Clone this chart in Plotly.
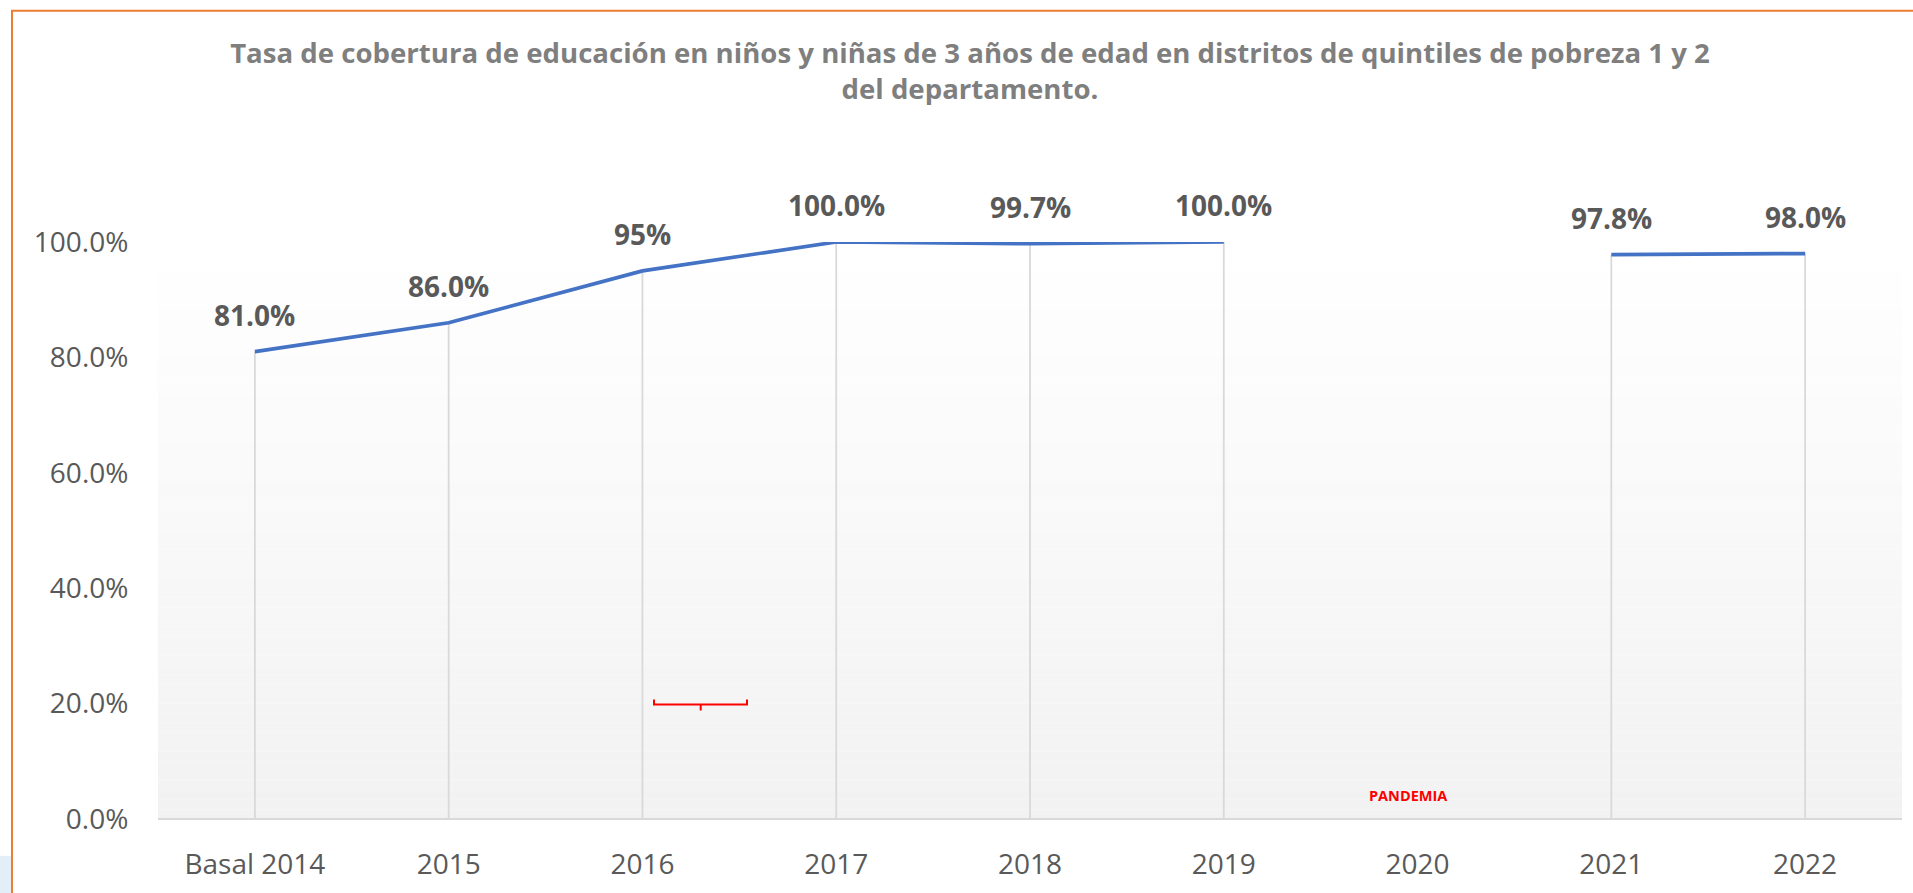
import plotly.graph_objects as go

# ---- data ----
categories = ["Basal 2014", "2015", "2016", "2017", "2018", "2019", "2020", "2021", "2022"]
coverage = [0.81, 0.86, 0.95, 1.00, 0.997, 1.00, None, 0.978, 0.98]
value_labels = ["81.0%", "86.0%", "95%", "100.0%", "99.7%", "100.0%", "", "97.8%", "98.0%"]
y_ticks = [0.0, 0.2, 0.4, 0.6, 0.8, 1.0]
title_text = ("Tasa de cobertura de educación en niños y niñas de 3 años de edad en distritos de quintiles de pobreza 1 y 2"
              "<br>del departamento.")
note_text = "PANDEMIA"

# ---- geometry (page pixels) ----
W, H = 1913, 893
ML, MR, MT, MB = 158, 11, 242, 72
PW, PH = W - ML - MR, H - MT - MB


def px(X):
    return (X - ML) / PW


def py(Y):
    return (H - MB - Y) / PH


FONT = "Open Sans"
GRAY = "#595959"

fig = go.Figure()

# drop lines from each point to the axis
dx, dy = [], []
for i, v in enumerate(coverage):
    if v is None:
        continue
    dx += [i, i, None]
    dy += [0, v, None]
fig.add_trace(go.Scatter(x=dx, y=dy, mode="lines", line=dict(color="#d9d9d9", width=1.8),
                         hoverinfo="skip", showlegend=False))

# main line
fig.add_trace(go.Scatter(x=list(range(len(categories))), y=coverage, mode="lines", connectgaps=False,
                         line=dict(color="#4472c4", width=3.7), showlegend=False))

# data labels
for i, (v, t) in enumerate(zip(coverage, value_labels)):
    if v is None or not t:
        continue
    fig.add_annotation(x=i, y=v, text=t, showarrow=False, yshift=37,
                       xanchor="center", yanchor="middle",
                       font=dict(family=FONT, size=28, color=GRAY, weight="bold"))

shapes = []
# gradient background of plot area
N = 60
for i in range(N):
    f = i / (N - 1)
    g = round(242 + (255 - 242) * f)
    shapes.append(dict(type="rect", xref="paper", yref="paper", x0=0, x1=1,
                       y0=i / N, y1=(i + 1) / N, fillcolor=f"rgb({g},{g},{g})",
                       line=dict(width=0), layer="below"))
# axis base line
shapes.append(dict(type="line", xref="paper", yref="paper", x0=0, x1=1, y0=0, y1=0,
                   line=dict(color="#d9d9d9", width=2), layer="above"))
# orange frame
shapes.append(dict(type="rect", xref="paper", yref="paper", x0=px(12), x1=px(1940),
                   y0=py(930), y1=py(10), line=dict(color="#ed7d31", width=2),
                   fillcolor="rgba(0,0,0,0)", layer="below"))
# light blue patch bottom-left
shapes.append(dict(type="rect", xref="paper", yref="paper", x0=px(-5), x1=px(11),
                   y0=py(900), y1=py(858), line=dict(width=0), fillcolor="#e4eef8", layer="below"))
# red brace
path = (f"M {px(654)},{py(701)} L {px(654)},{py(706)} L {px(747)},{py(706)} L {px(747)},{py(701)} "
        f"M {px(700.7)},{py(706)} L {px(700.7)},{py(712)}")
shapes.append(dict(type="path", xref="paper", yref="paper", path=path,
                   line=dict(color="#ff0000", width=2)))

fig.add_annotation(xref="paper", yref="paper", x=px(1408), y=py(797), text=note_text,
                   xanchor="center", yanchor="middle",
                   showarrow=False, font=dict(family=FONT, size=14.5, color="#ff0000", weight="bold"))

fig.update_layout(
    width=W, height=H,
    margin=dict(l=ML, r=MR, t=MT, b=MB),
    paper_bgcolor="white", plot_bgcolor="rgba(0,0,0,0)",
    shapes=shapes,
    title=dict(text=title_text, xref="container", yref="container", x=970 / W, y=1 - 63 / H,
               xanchor="center", yanchor="middle",
               font=dict(family=FONT, size=27.6, color="#7f7f7f", weight="bold")),
    xaxis=dict(range=[-0.5, len(categories) - 0.5], tickvals=list(range(len(categories))),
               ticktext=categories, showgrid=False, zeroline=False,
               showline=False, ticks="outside", ticklen=20, tickcolor="rgba(0,0,0,0)",
               tickfont=dict(family=FONT, size=28, color=GRAY)),
    yaxis=dict(range=[0, 1], tickvals=y_ticks, tickformat=".1%", showgrid=False,
               zeroline=False, showline=False, ticks="outside", ticklen=23,
               tickcolor="rgba(0,0,0,0)", tickfont=dict(family=FONT, size=28, color=GRAY)),
    showlegend=False,
)

fig.write_html("out.html", config={"displayModeBar": False},
               post_script="document.body.style.margin='0';document.body.style.overflow='hidden';")
